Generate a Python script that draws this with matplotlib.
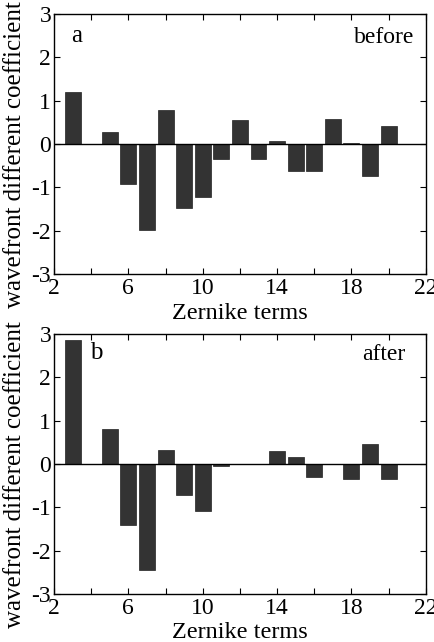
import matplotlib.pyplot as plt
import numpy as np

# Zernike terms and coefficients
terms_a = [3, 5, 6, 7, 8, 9, 10, 11, 12, 13, 14, 15, 16, 17, 18, 19, 20]
coef_a = [1.21, 0.29, -0.92, -1.98, 0.79, -1.48, -1.22, -0.34, 0.55, -0.35,
          0.08, -0.63, -0.61, 0.58, 0.03, -0.74, 0.42]

terms_b = [3, 5, 6, 7, 8, 9, 10, 11, 14, 15, 16, 18, 19, 20]
coef_b = [2.85, 0.81, -1.42, -2.45, 0.33, -0.73, -1.09, -0.05, 0.30, 0.15,
          -0.31, -0.35, 0.45, -0.35]

xticks = [2, 4, 6, 8, 10, 12, 14, 16, 18, 20, 22]
xticklabels = ['2', '', '6', '', '10', '', '14', '', '18', '', '22']

plt.rcParams['font.family'] = ['Liberation Serif', 'DejaVu Serif']
plt.rcParams['axes.unicode_minus'] = False

fig = plt.figure(figsize=(4.35, 6.42), dpi=100)
ax_a = fig.add_axes([0.124, 0.573, 0.855, 0.405])
ax_b = fig.add_axes([0.124, 0.075, 0.855, 0.405])

panels = [(ax_a, terms_a, coef_a, 'a', 0.062, 0.915, 'before', 0.968, 0.91),
          (ax_b, terms_b, coef_b, 'b', 0.115, 0.927, 'after', 0.946, 0.92)]

for ax, t, c, letter, lx, ly, label, tx, ty in panels:
    ax.bar(t, c, width=0.86, color='#333333', edgecolor='#222222', linewidth=0.5)
    ax.axhline(0, color='black', linewidth=1)
    ax.set_xlim(2, 22)
    ax.set_ylim(-3, 3)
    ax.set_xticks(xticks)
    ax.set_xticklabels(xticklabels)
    ax.set_yticks([-3, -2, -1, 0, 1, 2, 3])
    ax.tick_params(direction='in', top=True, right=True, labelsize=17,
                   length=4)
    ax.tick_params(axis='x', pad=3)
    ax.tick_params(axis='y', pad=2)
    for s in ax.spines.values():
        s.set_linewidth(1)
    ax.set_xlabel('Zernike terms', fontsize=17.5)
    ax.xaxis.set_label_coords(0.5, -0.11)
    ax.set_ylabel('wavefront different coefficient', fontsize=18)
    ax.yaxis.set_label_coords(-0.075, 0.46)
    ax.text(lx, ly, letter, transform=ax.transAxes, ha='center', va='center',
            fontsize=18)
    ax.text(tx, ty, label, transform=ax.transAxes, ha='right', va='center',
            fontsize=17)

fig.savefig('out.png', dpi=100)
